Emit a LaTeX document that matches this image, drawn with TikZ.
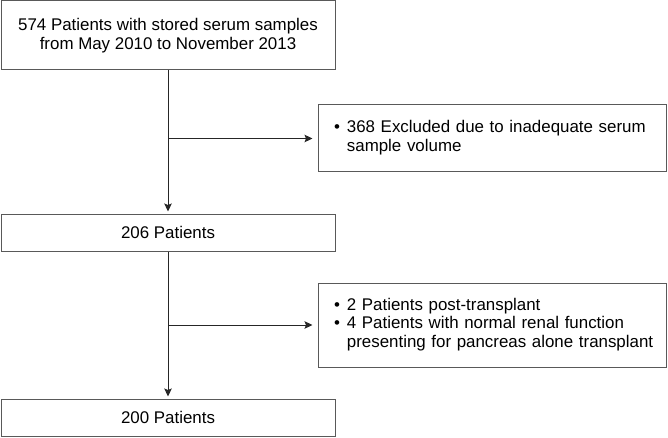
\documentclass[tikz,border=0pt]{standalone}
\usepackage{fontspec}
\setmainfont{Liberation Sans}
\usetikzlibrary{arrows.meta, positioning}

\begin{document}
\begin{tikzpicture} [
	x=1pt, y=-1pt, % one unit is one pixel of the flow chart, y grows downwards
	>={Stealth[length=8pt, width=7.5pt, inset=1.5pt]}, % filled arrow heads
	every node/.style={font=\fontsize{16.9}{18.5}\selectfont},
	box/.style={draw=black!65, line width=1pt, inner sep=0pt, minimum width=334pt, align=center}, % main stages
	side/.style={draw=black!65, line width=1pt, inner xsep=16pt, inner ysep=0pt, text width=316pt, align=left}, % exclusions
	flow/.style={->, draw=black!85, line width=1pt},
	]
	\useasboundingbox (0,0) rectangle (668,438);

	\node[box, minimum height=69pt] (start) at (168,35.5) {574 Patients with stored serum samples\\from May 2010 to November 2013};
	\node[side, minimum height=67pt] (excl1) at (492,138.5) {\begin{tabular}{@{}l@{\hspace{7pt}}l@{}}
		\textbullet & 368 Excluded due to inadequate serum\\
		& sample volume
	\end{tabular}};
	\node[box, minimum height=37pt] (mid) at (168,232.5) {206 Patients};
	\node[side, minimum height=84pt] (excl2) at (492,325) {\begin{tabular}{@{}l@{\hspace{7pt}}l@{}}
		\textbullet & 2 Patients post-transplant\\
		\textbullet & 4 Patients with normal renal function\\
		& presenting for pancreas alone transplant
	\end{tabular}};
	\node[box, minimum height=37pt] (final) at (168,417.5) {200 Patients};

	\coordinate (j1) at (start.south |- excl1.west);
	\coordinate (j2) at (mid.south |- excl2.west);

	\draw[flow, shorten >=2pt] (start) -- (mid);
	\draw[flow, shorten >=2pt] (mid) -- (final);
	\draw[flow, shorten >=5pt] (j1) -- (excl1);
	\draw[flow, shorten >=5pt] (j2) -- (excl2);
\end{tikzpicture}
\end{document}
